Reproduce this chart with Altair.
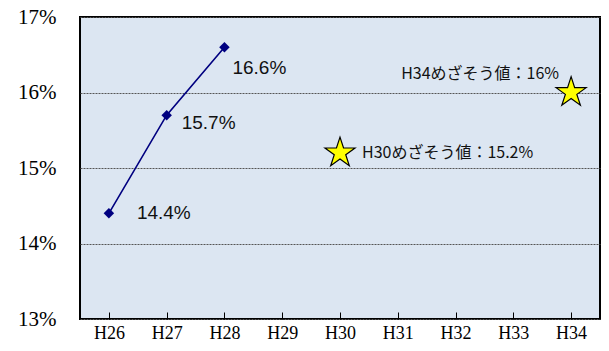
import altair as alt
import pandas as pd

years = ["H26", "H27", "H28", "H29", "H30", "H31", "H32", "H33", "H34"]
actual_years = ["H26", "H27", "H28"]
actual_values = [14.4, 15.7, 16.6]
actual_labels = ["14.4%", "15.7%", "16.6%"]
target_years = ["H30", "H34"]
target_values = [15.2, 16.0]
target_labels = ["H30めざそう値：15.2%", "H34めざそう値：16%"]
y_ticks = [13, 14, 15, 16, 17]

STAR = ("M0,-1L0.2245,-0.309L0.951,-0.309L0.363,0.118L0.588,0.809L0,0.382"
        "L-0.588,0.809L-0.363,0.118L-0.951,-0.309L-0.2245,-0.309Z")

actual = pd.DataFrame({"year": actual_years, "value": actual_values, "label": actual_labels})
target = pd.DataFrame({"year": target_years, "value": target_values, "label": target_labels})

xs = alt.Scale(domain=years, paddingInner=0, paddingOuter=0)
ys = alt.Scale(domain=[13, 17], nice=False, zero=False)

x_axis = alt.Axis(title=None, orient="bottom", offset=-7, bandPosition=0,
                  labelFont="Liberation Serif", labelFontSize=18, labelColor="black",
                  labelPadding=5, ticks=True, tickSize=7, tickColor="black", tickWidth=1,
                  domain=False, grid=False, labelAngle=0, labelBound=False)
y_axis = alt.Axis(title=None, orient="left", values=y_ticks, labelExpr="datum.value + '%'",
                  labelFont="Liberation Serif", labelFontSize=21, labelColor="black",
                  labelPadding=24, ticks=False, domain=False, grid=True,
                  gridColor="#555555", gridDash=[2, 1], gridWidth=1)

X = alt.X("year:N", scale=xs, axis=x_axis)
Y = alt.Y("value:Q", scale=ys, axis=y_axis)

base_a = alt.Chart(actual).encode(x=X, y=Y)
base_t = alt.Chart(target).encode(x=X, y=Y)

line = base_a.mark_line(color="#000080", strokeWidth=1.6)
pts = base_a.mark_point(shape="diamond", filled=True, color="#000080", size=110, opacity=1)

stars = base_t.mark_point(shape=STAR, filled=True, color="#FFFF00", stroke="black",
                          strokeWidth=1.2, size=1000, opacity=1)

offsets = [(28, 0), (15, 8), (8, 21)]
label_layers = []
for i, (dx, dy) in enumerate(offsets):
    label_layers.append(
        base_a.mark_text(align="left", baseline="middle", dx=dx, dy=dy,
                         font="Liberation Sans", fontSize=19, color="#111111").encode(
            text="label:N").transform_filter(alt.datum.year == actual_years[i])
    )

t30 = base_t.mark_text(align="left", baseline="middle", dx=22, dy=0,
                       font="Noto Sans CJK JP", fontSize=16, color="#111111").encode(
    text="label:N").transform_filter(alt.datum.year == target_years[0])
t34 = base_t.mark_text(align="right", baseline="middle", dx=-12, dy=-19,
                       font="Noto Sans CJK JP", fontSize=16, color="#111111").encode(
    text="label:N").transform_filter(alt.datum.year == target_years[1])

chart = alt.layer(line, pts, stars, t30, t34, *label_layers).properties(
    width=520, height=302,
    padding={"left": 72, "top": 9, "right": 1, "bottom": 24},
    autosize=alt.AutoSizeParams(type="none"),
    background="white",
).configure_view(fill="#DCE6F2", stroke="black", strokeWidth=2)

chart.save("out.html", embed_options={"renderer": "svg", "actions": False})
